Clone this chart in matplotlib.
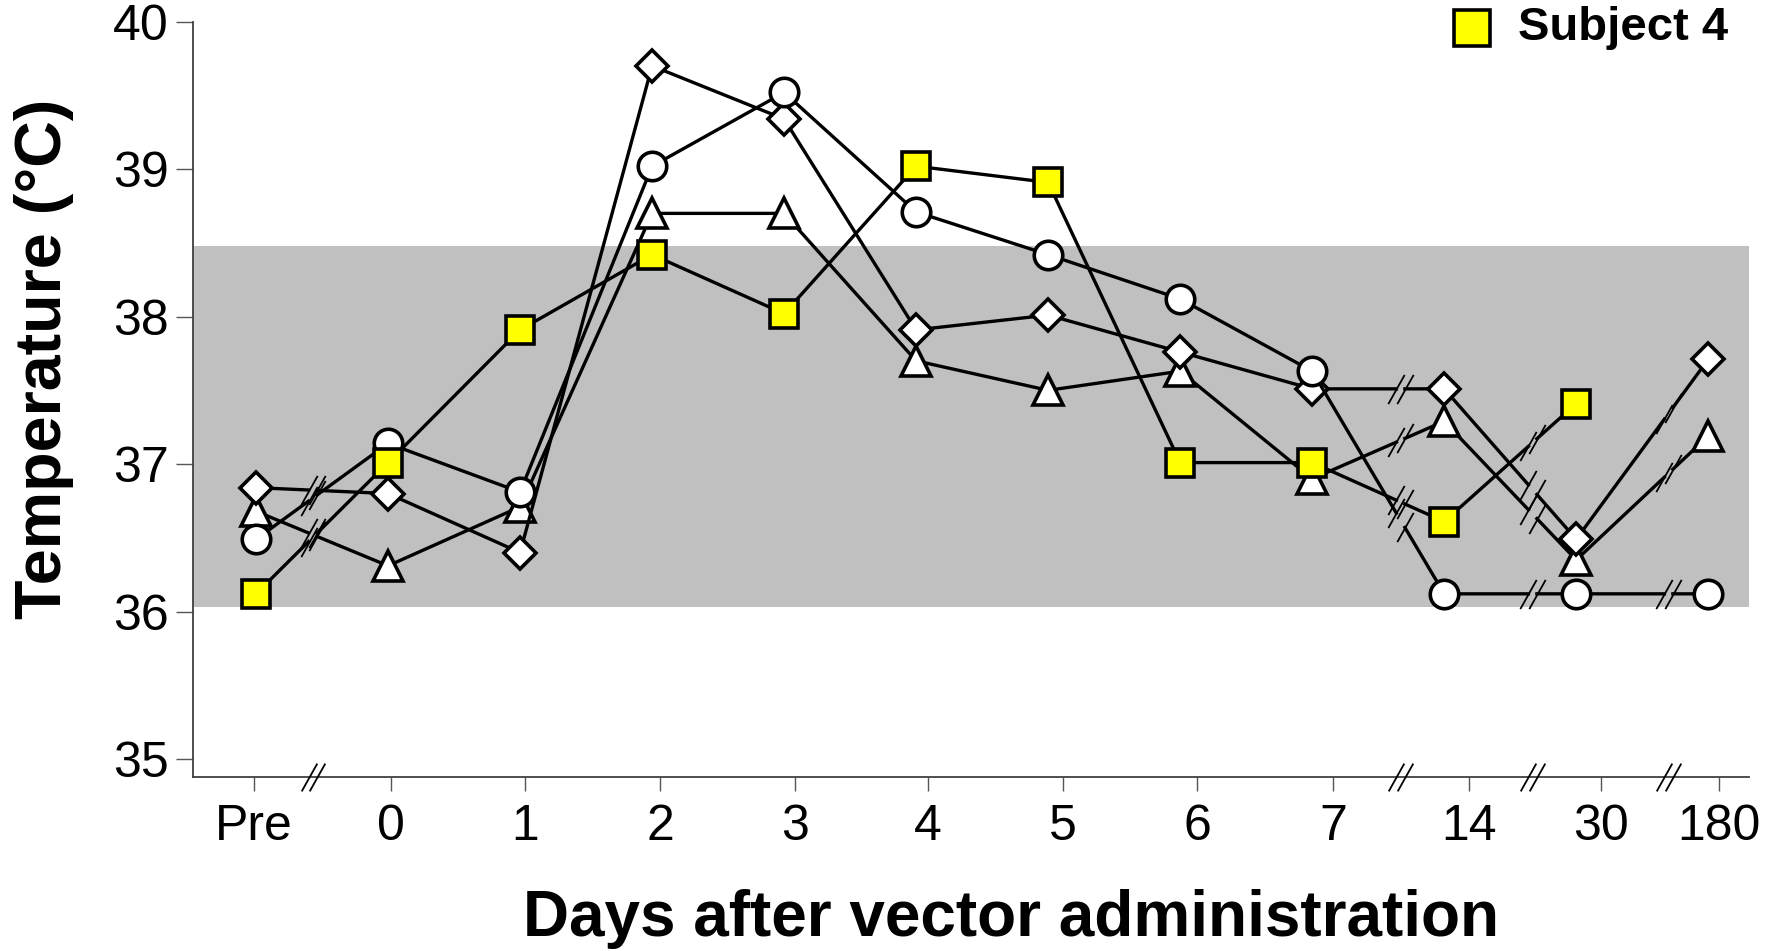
import matplotlib
matplotlib.use("Agg")
import matplotlib.pyplot as plt
from matplotlib.path import Path
import numpy as np

plt.rcParams["font.family"] = ["Liberation Sans", "DejaVu Sans"]

# days after vector administration
days = ["Pre", "0", "1", "2", "3", "4", "5", "6", "7", "14", "30", "180"]

# body temperature (deg C) per subject
subj_circle = [36.49, 37.14, 36.81, 39.02, 39.52, 38.71, 38.42, 38.12, 37.63, 36.12, 36.12, 36.12]
subj_diamond = [36.84, 36.80, 36.40, 39.70, 39.34, 37.91, 38.01, 37.76, 37.51, 37.51, 36.49, 37.71]
subj_triangle = [36.68, 36.31, 36.71, 38.70, 38.70, 37.70, 37.50, 37.63, 36.90, 37.29, 36.35, 37.19]
subj4 = [36.12, 37.01, 37.91, 38.42, 38.02, 39.02, 38.91, 37.01, 37.01, 36.61, 37.41]

normal_low, normal_high = 36.03, 38.48

# category positions (points, tick marks, axis breaks)
point_pos = np.arange(len(days))
tick_pos = [-0.015, 1.02, 2.04, 3.06, 4.08, 5.09, 6.11, 7.13, 8.16, 9.19, 10.19, 11.08]
break_pos = [0.43, 8.67, 9.67, 10.70]
half_gap = 0.032

slash = Path([(-0.28, -0.5), (0.28, 0.5)], [Path.MOVETO, Path.LINETO])

fig = plt.figure(figsize=(17.74, 9.51), dpi=100)
ax = fig.add_axes([0.1086, 0.1833, 0.8774, 0.7939])
ax.set_xlim(-0.48, 11.31)
ax.set_ylim(34.88, 40)

ax.axhspan(normal_low, normal_high, color="#c0c0c0", lw=0, zorder=0)


def draw_series(vals, marker, ms, face, z):
    x = point_pos[:len(vals)]
    y = np.array(vals)
    lx, ly, sx, sy = [], [], [], []
    for i in range(len(x)):
        lx.append(x[i]); ly.append(y[i])
        if i == len(x) - 1:
            break
        for b in break_pos:
            if x[i] < b < x[i + 1]:
                f = lambda xx: y[i] + (y[i + 1] - y[i]) * (xx - x[i]) / (x[i + 1] - x[i])
                lx += [b - half_gap, np.nan, b + half_gap]
                ly += [f(b - half_gap), np.nan, f(b + half_gap)]
                sx += [b - half_gap, b + half_gap]
                sy += [f(b - half_gap), f(b + half_gap)]
    ax.plot(lx, ly, color="black", lw=2.4, zorder=z, clip_on=False)
    ax.plot(sx, sy, ls="none", marker=slash, ms=21, mew=1.3, color="black", zorder=z, clip_on=False)
    ax.plot(x, y, ls="none", marker=marker, ms=ms, mfc=face, mec="black", mew=2.6,
            zorder=z + 0.5, clip_on=False)


draw_series(subj_triangle, "^", 22, "white", 2)
draw_series(subj_diamond, "D", 16.5, "white", 3)
draw_series(subj_circle, "o", 20.5, "white", 4)
draw_series(subj4, "s", 20, "#ffff00", 5)

# axis breaks on x axis
ax.plot([b + s * half_gap for b in break_pos for s in (-1, 1)], [34.88] * (2 * len(break_pos)),
        ls="none", marker=slash, ms=20, mew=1.3, color="black", zorder=6, clip_on=False)

for s in ["top", "right"]:
    ax.spines[s].set_visible(False)
for s in ["left", "bottom"]:
    ax.spines[s].set_color("#404040")
    ax.spines[s].set_linewidth(1.3)

ax.set_yticks([35, 36, 37, 38, 39, 40])
ax.set_xticks(tick_pos)
ax.set_xticklabels(days)
ax.tick_params(axis="y", length=12, width=1, color="#555555", labelsize=36, pad=5)
ax.tick_params(axis="x", length=10, width=1, color="#555555", labelsize=36, pad=10)

fig.text(0.025, 0.6225, "Temperature (°C)", rotation=90, ha="center", va="center",
         fontsize=46.5, fontweight="bold")
fig.text(0.570, 0.016, "Days after vector administration", ha="center", va="baseline",
         fontsize=46, fontweight="bold")

# legend
fig.add_artist(plt.Line2D([0.8298], [0.9706], marker="s", ms=26, mfc="#ffff00", mec="black",
                          mew=2.6, ls="none", transform=fig.transFigure))
fig.text(0.8557, 0.9706, "Subject 4", ha="left", va="center", fontsize=34, fontweight="bold")

fig.savefig("out.png", dpi=100)
